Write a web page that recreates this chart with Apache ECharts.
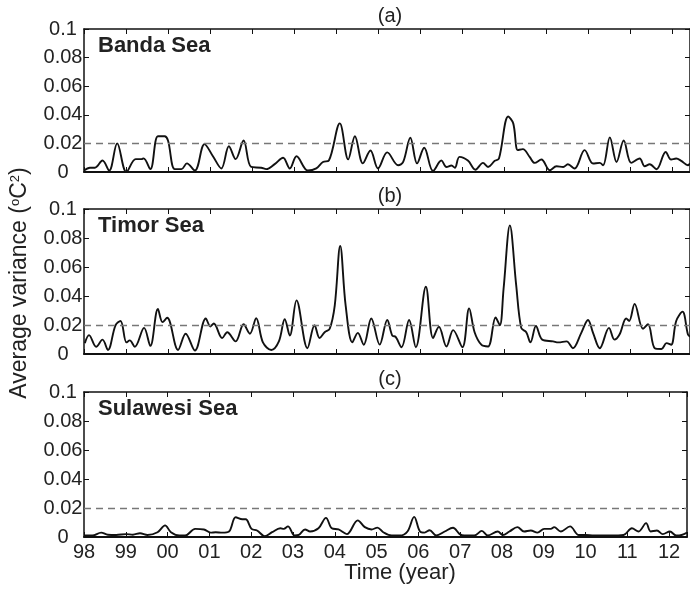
<!DOCTYPE html>
<html><head><meta charset="utf-8">
<script src="https://cdn.jsdelivr.net/npm/echarts@6/dist/echarts.min.js"></script>
<style>html,body{margin:0;padding:0;background:#fff}#c{width:690px;height:590px}</style>
</head><body><div id="c"></div>
<script>
// Time in years since Jan 1998
const yearTicks = ['98','99','00','01','02','03','04','05','06','07','08','09','10','11','12'];
const panelNames = ['Banda Sea','Timor Sea','Sulawesi Sea'];
const panelTags = ['(a)','(b)','(c)'];
const threshold = 0.02;

const tBanda = [0,0.14,0.26,0.44,0.6,0.79,1.01,1.23,1.37,1.42,1.58,1.76,1.92,2.0,2.16,2.32,2.45,2.64,2.87,3.07,3.27,3.45,3.61,3.8,3.98,4.22,4.34,4.54,4.74,4.9,5.06,5.33,5.53,5.69,5.83,6.09,6.29,6.45,6.64,6.82,7.0,7.22,7.48,7.6,7.77,7.93,8.1,8.31,8.51,8.63,8.75,8.83,8.94,9.14,9.32,9.5,9.62,9.78,9.88,10.1,10.22,10.33,10.45,10.61,10.73,10.89,11.09,11.25,11.41,11.52,11.68,11.92,12.12,12.28,12.36,12.52,12.68,12.85,13.03,13.23,13.35,13.47,13.63,13.85,13.98,14.1,14.22,14.38,14.43];
const vBanda = [0.001,0.003,0.003,0.008,0.001,0.020,0.0,0.009,0.009,0.0095,0.002,0.025,0.025,0.022,0.002,0.002,0.006,0.001,0.0195,0.011,0.0025,0.018,0.009,0.022,0.0035,0.003,0.002,0.0055,0.010,0.0025,0.011,0.001,0.0025,0.007,0.008,0.034,0.0088,0.025,0.006,0.015,0.0025,0.0137,0.0047,0.007,0.024,0.006,0.017,0.0007,0.008,0.0035,0.0045,0.003,0.0106,0.008,0.0016,0.0064,0.0035,0.0078,0.0094,0.0388,0.034,0.0153,0.016,0.0106,0.0064,0.0087,0.0012,0.004,0.0035,0.0054,0.0024,0.0153,0.0059,0.0064,0.0047,0.0242,0.007,0.022,0.0064,0.0094,0.004,0.0054,0.0019,0.014,0.0087,0.0094,0.0078,0.0047,0.006];

const tTimor = [0.02,0.12,0.29,0.44,0.57,0.75,0.87,1.01,1.09,1.21,1.43,1.58,1.76,1.87,1.98,2.24,2.42,2.64,2.9,3.01,3.09,3.29,3.41,3.61,3.8,3.95,4.1,4.26,4.46,4.64,4.78,4.9,5.06,5.32,5.49,5.61,5.73,5.85,5.97,6.1,6.23,6.39,6.52,6.66,6.84,7.04,7.22,7.34,7.42,7.56,7.74,7.9,8.14,8.31,8.45,8.63,8.79,9.01,9.17,9.3,9.46,9.62,9.8,9.9,9.99,10.14,10.29,10.41,10.53,10.63,10.76,10.91,11.17,11.29,11.49,11.64,11.84,12.0,12.12,12.28,12.5,12.63,12.75,12.91,12.98,13.11,13.31,13.43,13.59,13.75,13.87,13.98,14.1,14.25,14.38,14.43];
const vTimor = [0.0075,0.013,0.005,0.0099,0.0028,0.0198,0.0228,0.008,0.0094,0.005,0.018,0.0056,0.031,0.022,0.025,0.0028,0.014,0.0024,0.0245,0.019,0.021,0.011,0.015,0.0087,0.0205,0.014,0.0247,0.008,0.0028,0.0087,0.024,0.0127,0.037,0.004,0.0198,0.011,0.015,0.0174,0.0334,0.0746,0.0334,0.008,0.0146,0.0064,0.0245,0.0065,0.0235,0.0127,0.0118,0.0047,0.0235,0.0047,0.0464,0.011,0.0188,0.0052,0.0165,0.0047,0.0315,0.015,0.0064,0.0052,0.0252,0.0198,0.045,0.0887,0.0475,0.018,0.015,0.008,0.0193,0.0099,0.0087,0.008,0.0087,0.004,0.0146,0.0235,0.0146,0.004,0.018,0.0099,0.0134,0.0245,0.0228,0.0346,0.0174,0.0205,0.004,0.0035,0.0075,0.0064,0.0228,0.0292,0.0134,0.012];

const tSulawesi = [0.02,0.2,0.41,0.57,0.77,1.01,1.17,1.34,1.52,1.76,1.94,2.08,2.28,2.42,2.66,2.87,3.03,3.15,3.31,3.47,3.63,3.79,3.87,4.01,4.14,4.33,4.5,4.7,4.78,4.88,5.04,5.14,5.29,5.41,5.61,5.79,5.93,6.09,6.29,6.55,6.72,6.88,7.02,7.16,7.36,7.56,7.74,7.9,8.04,8.15,8.27,8.43,8.63,8.83,8.99,9.1,9.34,9.52,9.66,9.9,10.02,10.18,10.37,10.53,10.69,10.85,11.01,11.17,11.25,11.41,11.63,11.84,12.0,12.2,12.6,12.91,13.11,13.27,13.45,13.56,13.71,13.85,14.02,14.17,14.3,14.43];
const vSulawesi = [0.001,0.001,0.003,0.0016,0.0014,0.002,0.0016,0.0026,0.0014,0.0033,0.008,0.0033,0.001,0.001,0.0056,0.0052,0.003,0.0033,0.003,0.0038,0.0136,0.0122,0.0122,0.0056,0.0045,0.0005,0.0033,0.006,0.0056,0.0073,0.001,0.0014,0.0052,0.0038,0.006,0.0132,0.006,0.0052,0.002,0.0115,0.0068,0.0052,0.0065,0.0033,0.001,0.001,0.0038,0.0139,0.0038,0.003,0.0047,0.001,0.0038,0.0064,0.002,0.001,0.001,0.0042,0.001,0.0038,0.0014,0.0038,0.0068,0.0038,0.0045,0.003,0.0056,0.0056,0.0068,0.0038,0.0073,0.0014,0.0014,0.001,0.001,0.0014,0.006,0.0038,0.0096,0.0038,0.0045,0.002,0.0038,0.001,0.0014,0.003];

const times = [tBanda, tTimor, tSulawesi];
const values = [vBanda, vTimor, vSulawesi];

const FONT = '"Liberation Sans", Arial, Helvetica, sans-serif';
const TXT = '#222';
const grids = [{top:29,height:143},{top:209,height:145},{top:392,height:145}];
const LEFT = 84, WIDTH = 606, PXY = 42;
const XMAX = WIDTH / PXY;

const option = {animation:false, backgroundColor:'#fff', grid:[], xAxis:[], yAxis:[], series:[], graphic:[]};
grids.forEach((g,i)=>{
  option.grid.push({left:LEFT, width:WIDTH, top:g.top, height:g.height});
  const isBottom = i === 2;
  option.xAxis.push({type:'value', gridIndex:i, min:0, max:XMAX, interval:1, position:'bottom',
    axisLine:{onZero:false, lineStyle:{color:'#111', width:2}},
    axisTick:{inside:true, length:5, lineStyle:{color:'#111', width:1}},
    axisLabel:{show:isBottom, margin:5, color:TXT, fontSize:20, fontFamily:FONT,
      formatter:v=>{const k=Math.round(v); return Math.abs(v-k)<1e-6 && yearTicks[k]!==undefined ? yearTicks[k] : '';}},
    splitLine:{show:false}});
  option.xAxis.push({type:'value', gridIndex:i, min:0, max:XMAX, interval:1, position:'top',
    axisLine:{onZero:false, lineStyle:{color:'#111', width:1.5}},
    axisTick:{inside:true, length:5, lineStyle:{color:'#111', width:1}},
    axisLabel:{show:false}, splitLine:{show:false}});
  option.yAxis.push({type:'value', gridIndex:i, min:0, max:0.1, interval:0.02, position:'left',
    axisLine:{show:true, onZero:false, lineStyle:{color:'#111', width:1.5}},
    axisTick:{show:true, inside:true, length:5, lineStyle:{color:'#111', width:1}},
    axisLabel:{margin:21, align:'center', color:TXT, fontSize:20, fontFamily:FONT, formatter:v=>v===0?'0':String(+v.toFixed(2))},
    splitLine:{show:false}});
  option.yAxis.push({type:'value', gridIndex:i, min:0, max:0.1, interval:0.02, position:'right',
    axisLine:{show:true, onZero:false, lineStyle:{color:'#111', width:1.5}},
    axisTick:{show:true, inside:true, length:5, lineStyle:{color:'#111', width:1}},
    axisLabel:{show:false}, splitLine:{show:false}});
  option.series.push({type:'line', xAxisIndex:2*i, yAxisIndex:2*i, showSymbol:false, smooth:0.35,
    data: times[i].map((t,j)=>[t, values[i][j]]),
    lineStyle:{color:'#111', width:1.9}, z:3,
    markLine:{silent:true, symbol:'none', label:{show:false},
      lineStyle:{color:'#777', type:[7,5], width:1.3}, data:[{yAxis:threshold}]}});
  option.graphic.push({type:'text', x:LEFT+14, y:g.top+17,
    style:{text:panelNames[i], font:'bold 22px '+FONT, fill:TXT, verticalAlign:'middle'}});
  option.graphic.push({type:'text', x:390, y:g.top-13,
    style:{text:panelTags[i], font:'20px '+FONT, fill:TXT, align:'center', verticalAlign:'middle'}});
});
option.graphic.push({type:'text', x:400, y:573,
  style:{text:'Time (year)', font:'22px '+FONT, fill:TXT, align:'center', verticalAlign:'middle'}});
option.graphic.push({type:'text', x:20, y:283, rotation:Math.PI/2,
  style:{text:'Average variance ({s|o}C{s|2})', font:'23px '+FONT, fill:TXT, align:'center', verticalAlign:'middle',
    rich:{s:{fontSize:13, fontFamily:FONT, fill:TXT, verticalAlign:'top', padding:[0,0,10,0]}}}});

const chart = echarts.init(document.getElementById('c'), null, {renderer:'canvas'});
chart.setOption(option);
</script></body></html>
